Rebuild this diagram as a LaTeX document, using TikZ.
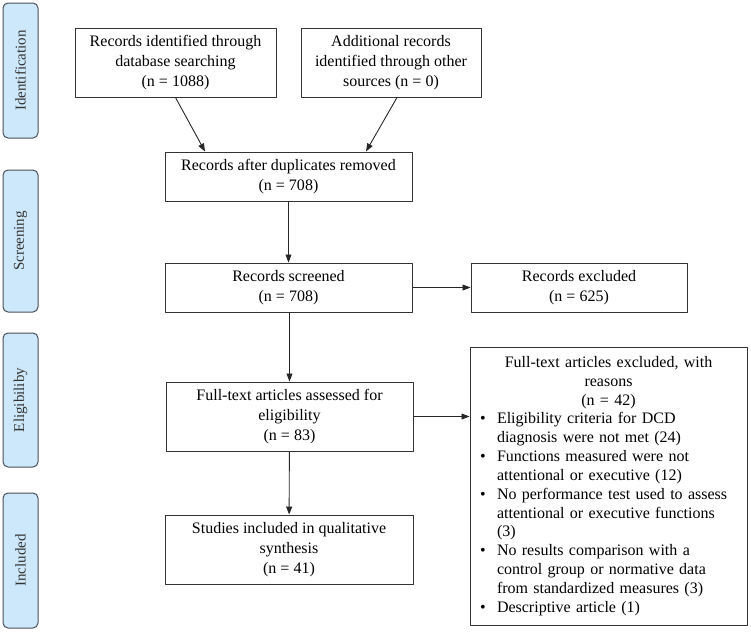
\documentclass[tikz,border=0pt]{standalone}
\usepackage{fontspec}
\setmainfont{Liberation Serif}
\usepackage{xcolor}
\usetikzlibrary{arrows.meta,calc}
\definecolor{phasefill}{RGB}{205,232,250}
\definecolor{phaseline}{RGB}{75,80,90}
\newcommand{\bul}{\par\noindent\hangindent=19pt\hangafter=1\makebox[19pt][l]{\hspace{2pt}\textbullet}}

\begin{document}
\begin{tikzpicture}[x=1pt,y=-1pt,>={Triangle[length=8pt,width=6pt]},line join=round,
  flowbox/.style={draw=black!80,line width=1pt,align=center,inner sep=0pt,
    font=\fontsize{16}{20}\selectfont},
  phase/.style={draw=phaseline,fill=phasefill,line width=1pt,rounded corners=5pt,
    rotate=90,minimum height=35pt,inner sep=0pt,text=black!80,font=\fontsize{15}{18}\selectfont},
  link/.style={->,line width=0.9pt,black!85}]
  \useasboundingbox (0,0) rectangle (751,637);
  \node[phase,minimum width=135pt] (ident) at (20.5,70.5) {Identification};
  \node[phase,minimum width=142pt] (screen) at (20.5,241) {Screening};
  \node[phase,minimum width=134pt] (elig) at (20.5,400) {Eligibiliby};
  \node[phase,minimum width=135pt] (incl) at (20.5,560.5) {Included};
  \node[flowbox,minimum width=201pt,minimum height=69pt] (dbrec) at (175.5,62.5)
    {Records identified through\\ database searching\\ (n = 1088)};
  \node[flowbox,minimum width=180pt,minimum height=69pt] (addrec) at (391,62.5)
    {Additional records\\ identified through other\\ sources (n = 0)};
  \node[flowbox,minimum width=247pt,minimum height=49pt] (dedup) at (288.5,176.5)
    {Records after duplicates removed\\ (n = 708)};
  \node[flowbox,minimum width=247pt,minimum height=49pt] (screened) at (288.5,287.5)
    {Records screened\\ (n = 708)};
  \node[flowbox,minimum width=216pt,minimum height=49pt] (recexcl) at (579,287.5)
    {Records excluded\\ (n = 625)};
  \node[flowbox,minimum width=247pt,minimum height=69pt] (fulltext) at (289.5,416.5)
    {Full-text articles assessed for\\ eligibility\\ (n = 83)};
  \node[flowbox,minimum width=248pt,minimum height=69pt] (studies) at (289,549.5)
    {Studies included in qualitative\\ synthesis\\ (n = 41)};
  \node[flowbox,align=left,text width=261pt,inner xsep=8pt,minimum height=278pt,
    font=\fontsize{16}{18.85}\selectfont] (ftexcl) at (608.5,486)
    {{\centering Full-text articles excluded, with\\ reasons\\ (n = 42)\par}
     \bul Eligibility criteria for DCD\newline diagnosis were not met (24)
     \bul Functions measured were not\newline attentional or executive (12)
     \bul No performance test used to assess\newline attentional or executive functions\newline (3)
     \bul No results comparison with a\newline control group or normative data\newline from standardized measures (3)
     \bul Descriptive article (1)\par};
  \draw[link] (dbrec.south) -- ([xshift=-83.5pt]dedup.north);
  \draw[link] ([xshift=6pt]addrec.south) -- ([xshift=77.5pt]dedup.north);
  \draw[link] (dedup) -- (screened);
  \draw[link] (screened) -- (recexcl);
  \draw[link] (screened.south -| fulltext.north) -- (fulltext.north);
  \draw[link] (fulltext) -- (studies);
  \draw[link] (fulltext.east) -- (fulltext.east -| ftexcl.west);
\end{tikzpicture}
\end{document}
